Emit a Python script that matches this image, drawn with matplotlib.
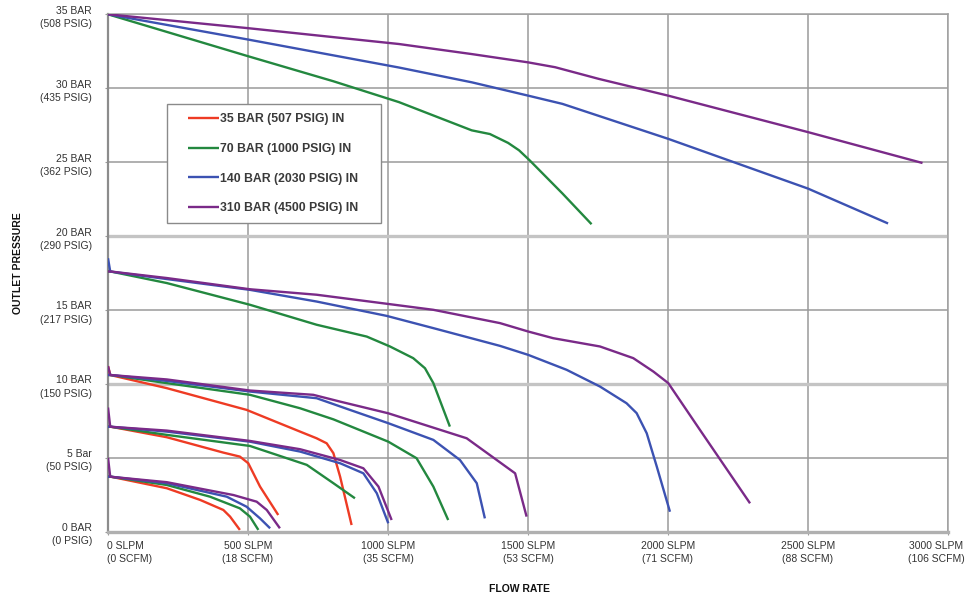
import matplotlib
matplotlib.use("Agg")
import matplotlib.pyplot as plt
from matplotlib.patches import Rectangle
from matplotlib.transforms import ScaledTranslation

plt.rcParams['font.family'] = ['Liberation Sans', 'DejaVu Sans']

# =============================================================================
# tick labels
x_ticks = [0, 500, 1000, 1500, 2000, 2500, 3000]
x_labels = ["0 SLPM\n(0 SCFM)", "500 SLPM\n(18 SCFM)", "1000 SLPM\n(35 SCFM)",
            "1500 SLPM\n(53 SCFM)", "2000 SLPM\n(71 SCFM)", "2500 SLPM\n(88 SCFM)",
            "3000 SLPM\n(106 SCFM)"]
y_ticks = [0, 5, 10, 15, 20, 25, 30, 35]
y_labels = ["0 BAR\n(0 PSIG)", "5 Bar\n(50 PSIG)", "10 BAR\n(150 PSIG)",
            "15 BAR\n(217 PSIG)", "20 BAR\n(290 PSIG)", "25 BAR\n(362 PSIG)",
            "30 BAR\n(435 PSIG)", "35 BAR\n(508 PSIG)"]

series_names = ["35 BAR (507 PSIG) IN", "70 BAR (1000 PSIG) IN",
                "140 BAR (2030 PSIG) IN", "310 BAR (4500 PSIG) IN"]
series_colors = ["#ee3b24", "#23883f", "#3c52b2", "#7a2a88"]

# flow (SLPM) / outlet pressure (bar), one curve per outlet setting
red_flow = [
    [0, 8, 210, 495, 686, 745, 781, 805, 829, 870],
    [0, 10, 210, 412, 471, 501, 543, 608],
    [0, 10, 210, 329, 412, 436, 471],
]
red_pres = [
    [11.2, 10.6, 9.71, 8.24, 6.77, 6.32, 5.98, 5.31, 3.72, 0.45],
    [7.1, 7.1, 6.39, 5.35, 5.08, 4.63, 3.05, 1.13],
    [3.72, 3.72, 2.94, 2.15, 1.47, 1.02, 0.12],
]

green_flow = [
    [0, 501, 805, 1039, 1299, 1364, 1429, 1468, 1506, 1623, 1727],
    [0, 10, 210, 507, 745, 924, 1007, 1090, 1132, 1162, 1221],
    [0, 10, 210, 507, 686, 805, 1001, 1102, 1162, 1215],
    [0, 10, 210, 507, 710, 805, 882],
    [0, 10, 210, 364, 471, 507, 537],
]
green_pres = [
    [35.0, 32.16, 30.47, 29.06, 27.15, 26.9, 26.3, 25.8, 25.12, 22.88, 20.8],
    [17.6, 17.6, 16.82, 15.35, 14.0, 13.2, 12.53, 11.74, 11.06, 10.05, 7.11],
    [10.6, 10.6, 10.05, 9.26, 8.35, 7.6, 6.09, 4.97, 3.05, 0.79],
    [7.1, 7.1, 6.55, 5.8, 4.52, 3.28, 2.26],
    [3.72, 3.72, 3.16, 2.37, 1.58, 1.02, 0.12],
]

blue_flow = [
    [0, 501, 1039, 1299, 1500, 1623, 2000, 2500, 2786],
    [0, 8, 210, 507, 745, 995, 1162, 1400, 1501, 1638, 1757, 1852, 1888, 1924, 1960, 2007],
    [0, 10, 210, 507, 745, 864, 1001, 1162, 1257, 1317, 1346],
    [0, 10, 210, 507, 686, 829, 912, 960, 1001],
    [0, 10, 210, 424, 495, 543, 579],
]
blue_pres = [
    [35.0, 33.29, 31.4, 30.4, 29.5, 28.94, 26.58, 23.21, 20.85],
    [18.5, 17.6, 17.09, 16.36, 15.57, 14.6, 13.77, 12.57, 11.96, 10.95, 9.82, 8.69, 8.02, 6.66, 4.4, 1.35],
    [10.6, 10.6, 10.2, 9.48, 9.03, 8.24, 7.34, 6.21, 4.85, 3.28, 0.9],
    [7.1, 7.1, 6.77, 6.09, 5.42, 4.63, 3.95, 2.6, 0.57],
    [3.72, 3.72, 3.28, 2.37, 1.69, 0.9, 0.23],
]

purple_flow = [
    [0, 501, 1039, 1299, 1500, 1597, 1753, 2000, 2500, 2909],
    [0, 10, 210, 507, 745, 995, 1162, 1400, 1501, 1590, 1757, 1876, 1948, 2001, 2114, 2293],
    [0, 8, 210, 507, 733, 829, 1001, 1281, 1454, 1495],
    [0, 8, 210, 507, 686, 829, 912, 966, 1013],
    [0, 8, 210, 448, 531, 567, 614],
]
purple_pres = [
    [35.0, 34.06, 32.99, 32.31, 31.75, 31.42, 30.63, 29.5, 27.03, 24.94],
    [17.6, 17.6, 17.16, 16.4, 16.03, 15.42, 15.01, 14.11, 13.54, 13.09, 12.53, 11.74, 10.83, 10.05, 6.89, 1.92],
    [11.2, 10.6, 10.3, 9.55, 9.26, 8.8, 8.01, 6.32, 3.95, 1.02],
    [8.4, 7.1, 6.84, 6.14, 5.58, 4.85, 4.29, 3.05, 0.79],
    [5.0, 3.72, 3.35, 2.48, 2.03, 1.47, 0.23],
]
# =============================================================================
fig = plt.figure(figsize=(9.68, 5.97), dpi=100)
ax = fig.add_axes([108/968, 1 - 531.7/597, 840/968, 517.4/597])

all_flow = [red_flow, green_flow, blue_flow, purple_flow]
all_pres = [red_pres, green_pres, blue_pres, purple_pres]
for name, col, flows, press in zip(series_names, series_colors, all_flow, all_pres):
    for k, (fx, py) in enumerate(zip(flows, press)):
        ax.plot(fx, py, color=col, lw=1.7, solid_capstyle='butt',
                solid_joinstyle='round', label=name if k == 0 else None, zorder=3)

ax.set_xlim(0, 3000)
ax.set_ylim(0, 35)
ax.set_xticks(x_ticks)
ax.set_xticklabels(x_labels, linespacing=1.45)
ax.set_yticks(y_ticks)
ax.set_yticklabels(y_labels, linespacing=1.4)
ax.grid(True, color='#9a9a9a', lw=1.1, zorder=0)
for gl, v in zip(ax.get_ygridlines(), y_ticks):
    if v in (10, 20):
        gl.set_color('#c4c4c4')
        gl.set_linewidth(2.4)

ax.tick_params(axis='both', length=2.5, color='#9a9a9a', labelsize=7.5,
               labelcolor='#333333')
ax.tick_params(axis='y', pad=9)
ax.tick_params(axis='x', pad=4)

# nudge tick labels like the original
for lab in ax.get_yticklabels():
    lab.set_verticalalignment('top')
    lab.set_multialignment('right')
    lab.set_transform(lab.get_transform() + ScaledTranslation(0, 0.085, fig.dpi_scale_trans))
xl = ax.get_xticklabels()
xl[0].set_horizontalalignment('left')
xl[0].set_transform(xl[0].get_transform() + ScaledTranslation(-0.01, 0, fig.dpi_scale_trans))
xl[-1].set_transform(xl[-1].get_transform() + ScaledTranslation(-0.12, 0, fig.dpi_scale_trans))

for s in ['top', 'right']:
    ax.spines[s].set_color('#a0a0a0')
    ax.spines[s].set_linewidth(1.1)
ax.spines['left'].set_color('#8c8c8c')
ax.spines['left'].set_linewidth(1.6)
ax.spines['bottom'].set_color('#b0b0b0')
ax.spines['bottom'].set_linewidth(2.4)

ax.set_ylabel("OUTLET PRESSURE", fontsize=7.5, fontweight='bold', color='#111111')
ax.yaxis.set_label_coords(-0.101, 0.52)
ax.set_xlabel("FLOW RATE", fontsize=7.5, fontweight='bold', color='#111111')
ax.xaxis.set_label_coords(0.49, -0.102)

# legend box
ax.add_patch(Rectangle((0.0702, 0.5966), 0.2548, 0.230, transform=ax.transAxes,
                       facecolor='white', edgecolor='#8a8a8a', lw=1.0, zorder=4))
leg = ax.legend(loc='upper left', bbox_to_anchor=(0.0952, 0.809), frameon=False,
                prop={'size': 8.8, 'weight': 'bold'}, handlelength=2.5,
                handletextpad=0.1, borderpad=0, labelspacing=1.45, borderaxespad=0)
leg.set_zorder(5)
for t in leg.get_texts():
    t.set_color('#3a3a3a')

fig.savefig("out.png", dpi=100)
